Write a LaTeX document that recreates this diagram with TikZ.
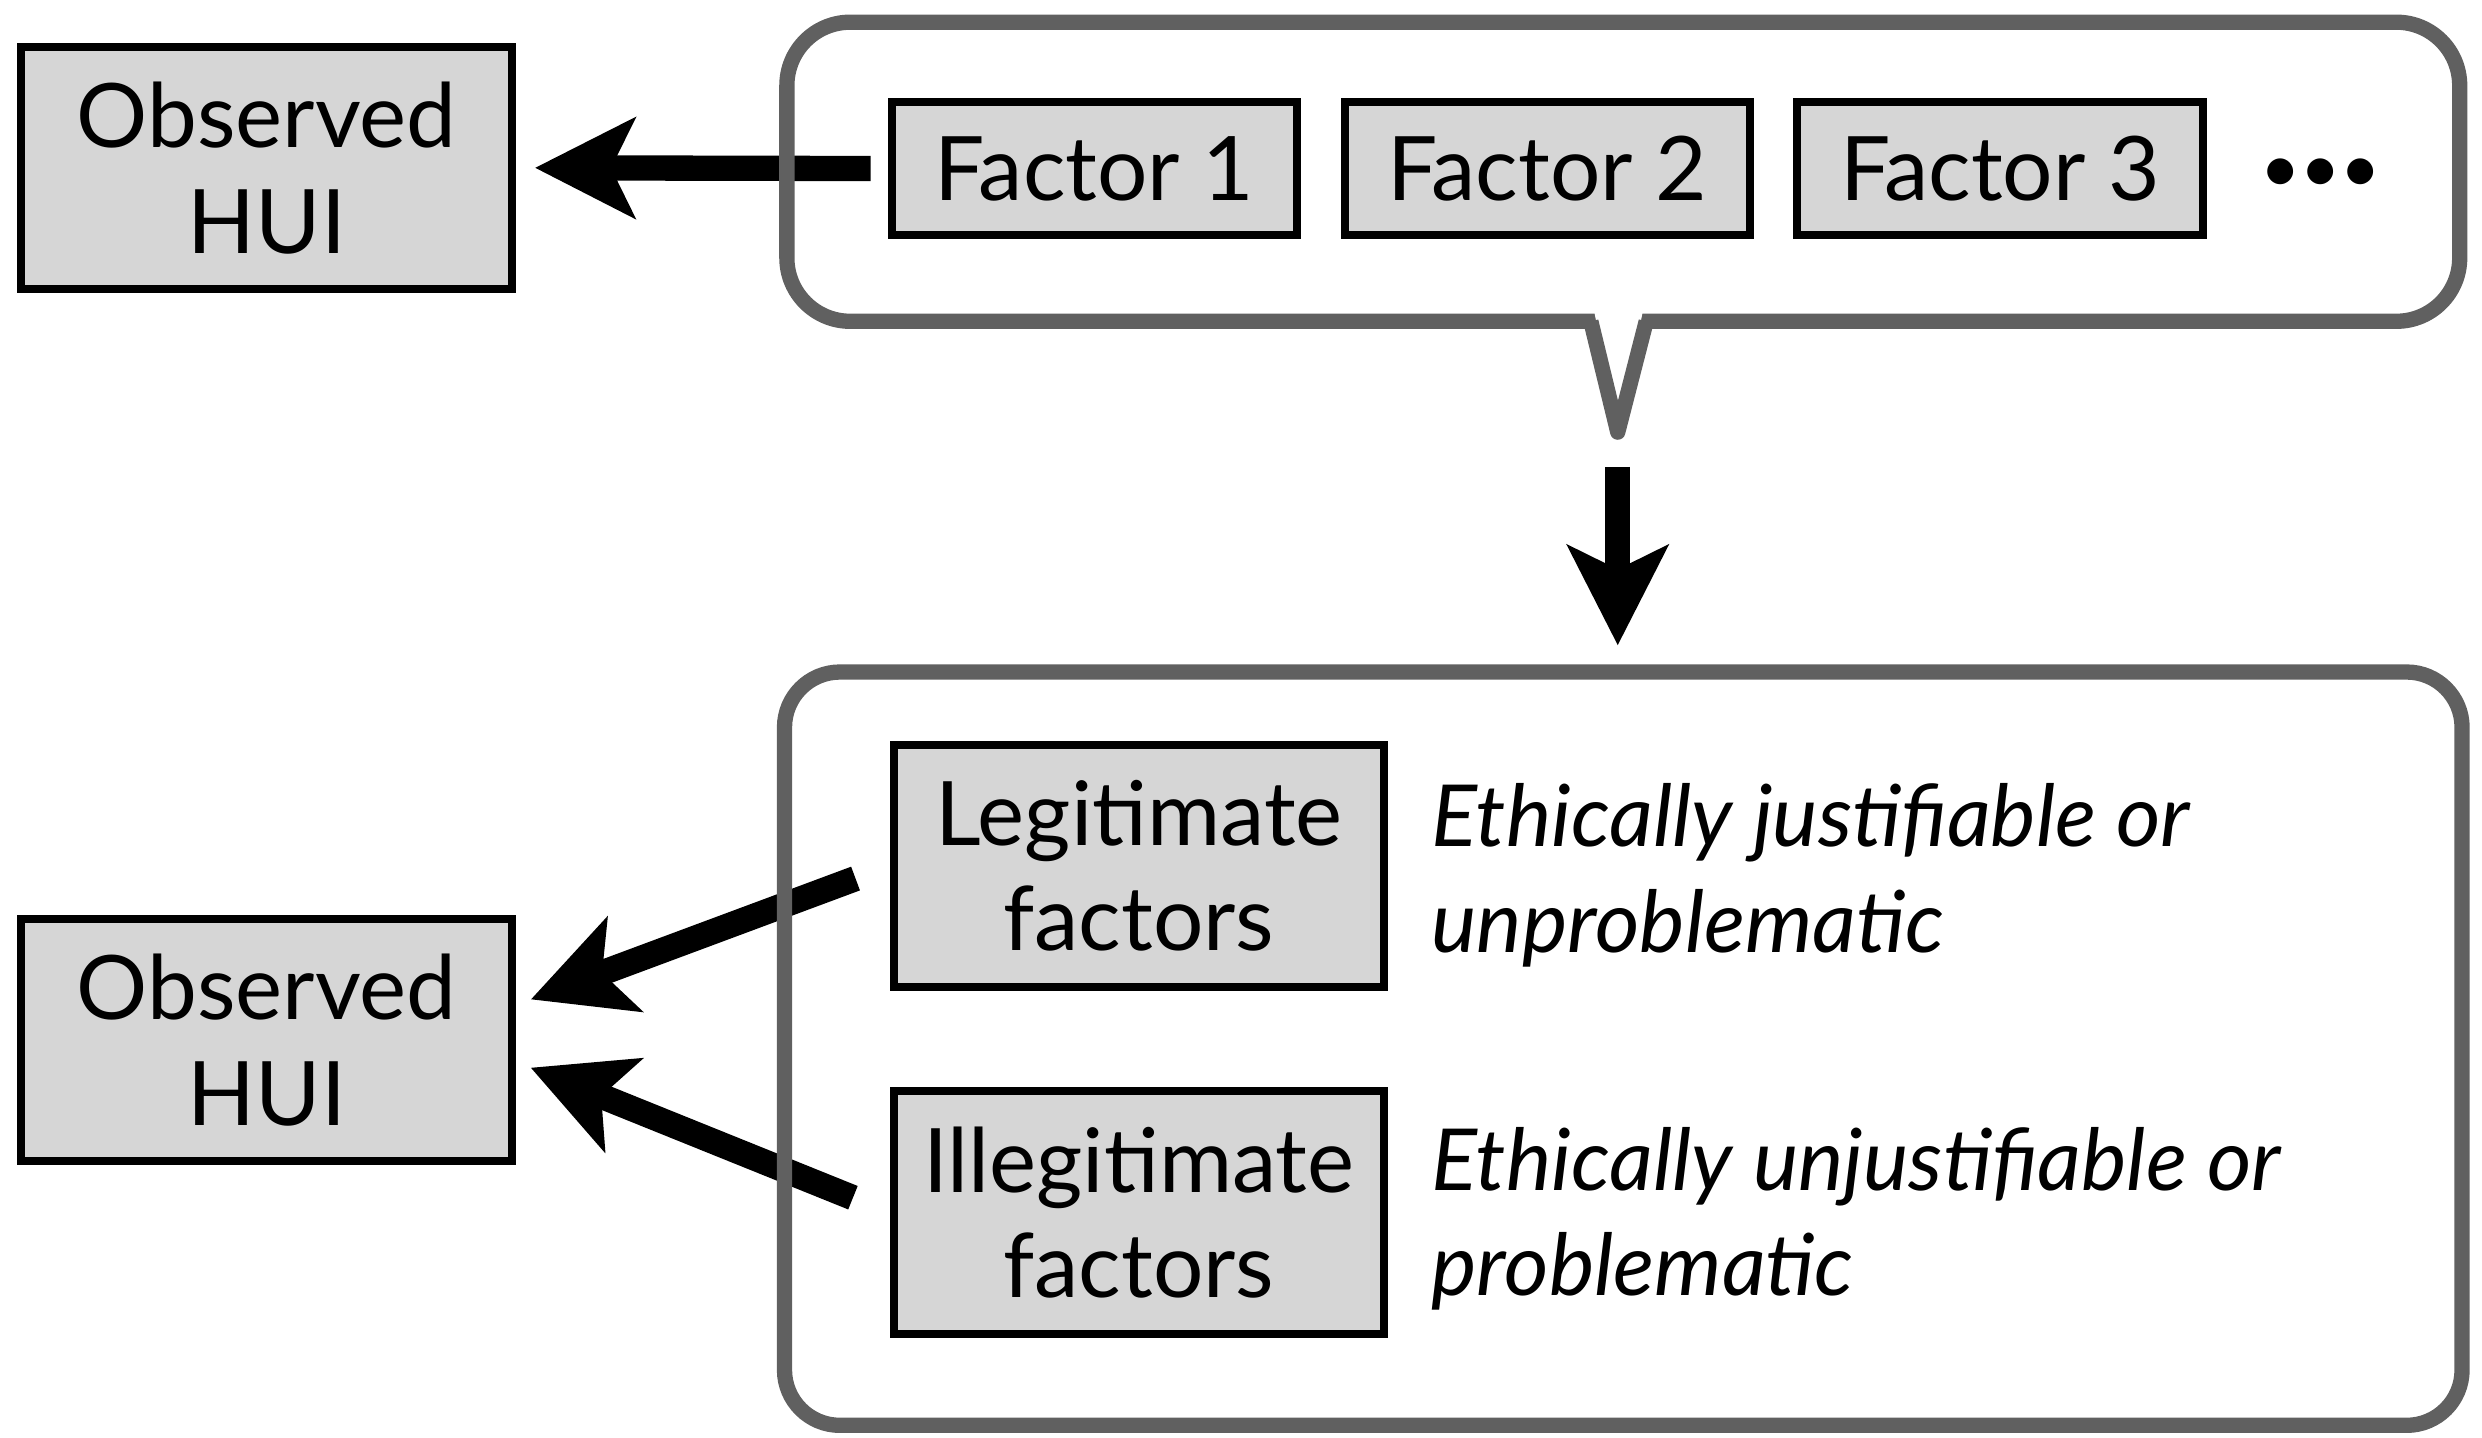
\documentclass[tikz,border=0pt]{standalone}
\usepackage{fontspec}
\setmainfont{Lato}
\usetikzlibrary{arrows.meta,backgrounds}
\definecolor{boxgray}{HTML}{D6D6D6}
\definecolor{framegray}{HTML}{606060}
\begin{document}
\begin{tikzpicture}[x=0.02cm,y=-0.02cm,
  box/.style={draw=black, fill=boxgray, line width=2.85pt, minimum width=6.2cm,
    minimum height=3.06cm, align=center, inner sep=0pt,
    font=\fontsize{32}{38}\selectfont},
  fbox/.style={box, minimum width=5.12cm, minimum height=1.68cm},
  frame/.style={draw=framegray, line width=5.5pt, rounded corners=0.8cm},
  bigarrow/.style={line width=9.1pt, line cap=butt,
    -{Stealth[length=35.8pt,width=35.8pt,inset=8.5pt]}},
  desc/.style={anchor=west, align=left, inner sep=0pt,
    font=\fontsize{30.8}{38}\selectfont\itshape}]
\useasboundingbox (0,0) rectangle (1568,908);

% boxes
\node[box] (obs1) at (168.5,106) {Observed\\HUI};
\node[fbox] (f1) at (691.5,106.5) {Factor 1};
\node[fbox] (f2) at (977.5,106.5) {Factor 2};
\node[fbox] (f3) at (1263.5,106.5) {Factor 3};
\node[inner sep=0pt, font=\fontsize{25}{30}\selectfont] (dots) at (1466,111) {•••};

\node[box] (leg) at (719.5,547) {Legitimate\\factors};
\node[box] (ill) at (719.5,766) {Illegitimate\\factors};
\node[box] (obs2) at (168.5,657) {Observed\\HUI};

\node[desc] (d1) at (904,553) {Ethically justifiable or\\unproblematic};
\node[desc] (d2) at (904,770) {Ethically unjustifiable or\\problematic};

% frames
\node[frame, minimum width=21.14cm, minimum height=3.78cm] (callout) at (1025.5,108.5) {};
\coordinate (ptip) at (1022,273);
\fill[white] (1007,196) -- (1038,196) -- (ptip) -- cycle;
\draw[framegray, line width=5.5pt, line join=round] (1005,203) -- (ptip) -- (1040,203);
\node[frame, rounded corners=0.7cm, minimum width=21.2cm, minimum height=9.52cm] (big) at (1025.5,662.5) {};

% arrows
\begin{pgfonlayer}{background}
\draw[bigarrow, shorten <=0.22cm, shorten >=0.24cm] (f1.west) -- (obs1.east);
\draw[bigarrow, shorten <=0.44cm, shorten >=0.24cm] (ptip) -- (ptip |- big.north);
\draw[bigarrow, shorten <=0.46cm, shorten >=0.2cm] (leg.west) -- (obs2.8);
\draw[bigarrow, shorten <=0.5cm, shorten >=0.2cm] (ill.west) -- (obs2.-5);
\end{pgfonlayer}
\end{tikzpicture}
\end{document}
